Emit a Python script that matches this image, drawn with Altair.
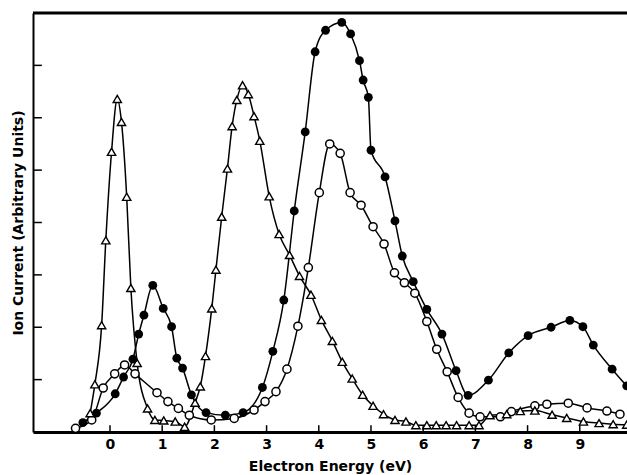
import altair as alt
import pandas as pd

# Filled circles
fill_x = [-0.52, -0.26, 0.10, 0.26, 0.44, 0.55, 0.65, 0.82, 1.02, 1.18, 1.28, 1.39, 1.56, 1.84,
          2.21, 2.55, 2.92, 3.12, 3.33, 3.53, 3.74, 3.93, 4.13, 4.44, 4.61, 4.78, 4.85, 4.95, 5.00,
          5.27, 5.46, 5.60, 5.81, 6.07, 6.36, 6.63, 6.86, 7.25, 7.64, 8.01, 8.45, 8.81, 9.06, 9.26,
          9.62, 9.90]
fill_y = [0.18, 0.36, 0.73, 1.05, 1.39, 1.87, 2.23, 2.80, 2.36, 2.01, 1.41, 1.22, 0.71, 0.37,
          0.32, 0.37, 0.85, 1.54, 2.52, 4.22, 5.73, 7.26, 7.67, 7.82, 7.60, 7.09, 6.72, 6.39, 5.38,
          4.87, 4.03, 3.36, 2.87, 2.34, 1.87, 1.17, 0.70, 0.99, 1.51, 1.84, 2.00, 2.13, 2.01, 1.66,
          1.20, 0.88]

# Open circles
open_x = [-0.66, -0.35, -0.13, 0.09, 0.28, 0.48, 0.90, 1.11, 1.31, 1.52, 1.94, 2.38, 2.76, 2.97,
          3.18, 3.39, 3.60, 3.80, 4.01, 4.21, 4.41, 4.60, 4.81, 5.04, 5.25, 5.45, 5.64, 5.84, 6.07,
          6.26, 6.46, 6.67, 6.88, 7.09, 7.48, 7.69, 8.14, 8.37, 8.78, 9.14, 9.52, 9.77]
open_y = [0.07, 0.23, 0.84, 1.11, 1.28, 1.11, 0.75, 0.58, 0.45, 0.32, 0.23, 0.26, 0.42, 0.58,
          0.77, 1.20, 2.02, 3.14, 4.57, 5.50, 5.32, 4.57, 4.33, 3.92, 3.59, 3.04, 2.85, 2.65, 2.11,
          1.58, 1.15, 0.66, 0.36, 0.29, 0.29, 0.39, 0.50, 0.53, 0.55, 0.46, 0.40, 0.34]

# Open triangles
tri_x = [-0.38, -0.29, -0.16, -0.08, 0.03, 0.14, 0.22, 0.32, 0.40, 0.52, 0.72, 0.86, 1.03, 1.25,
         1.43, 1.63, 1.73, 1.83, 1.95, 2.03, 2.14, 2.25, 2.34, 2.43, 2.54, 2.65, 2.76, 2.87, 3.05,
         3.24, 3.44, 3.63, 3.85, 4.05, 4.26, 4.45, 4.64, 4.84, 5.04, 5.24, 5.46, 5.67, 5.86, 6.07,
         6.25, 6.44, 6.64, 6.88, 7.07, 7.28, 7.60, 7.86, 8.14, 8.47, 8.75, 9.07, 9.37, 9.64, 9.90]
tri_y = [0.36, 0.91, 2.04, 3.66, 5.35, 6.36, 5.92, 4.49, 2.75, 1.32, 0.45, 0.23, 0.22, 0.20,
         0.10, 0.56, 0.87, 1.45, 2.36, 3.10, 4.11, 5.03, 5.84, 6.34, 6.62, 6.45, 6.03, 5.56, 4.50,
         3.78, 3.38, 2.98, 2.62, 2.14, 1.74, 1.34, 1.02, 0.71, 0.50, 0.34, 0.23, 0.20, 0.13, 0.13,
         0.13, 0.13, 0.13, 0.13, 0.13, 0.32, 0.34, 0.40, 0.41, 0.33, 0.27, 0.20, 0.17, 0.15, 0.14]

x_ticks = [0, 1, 2, 3, 4, 5, 6, 7, 8, 9]
y_ticks = [1, 2, 3, 4, 5, 6, 7]
x_min, x_max = -1.475, 9.905
y_min, y_max = 0, 8

df = pd.concat([
    pd.DataFrame({"x": fill_x, "y": fill_y, "s": "filled"}),
    pd.DataFrame({"x": open_x, "y": open_y, "s": "open"}),
    pd.DataFrame({"x": tri_x, "y": tri_y, "s": "tri"}),
])

FONT = "DejaVu Sans"

xs = alt.Scale(domain=[x_min, x_max], nice=False, zero=False)
ys = alt.Scale(domain=[y_min, y_max], nice=False, zero=False)

X = alt.X("x:Q", scale=xs, axis=alt.Axis(
    values=x_ticks, ticks=False, grid=False, domainWidth=3, domainColor="black",
    labelFont=FONT, labelFontSize=14, labelFontWeight="bold", labelColor="black",
    labelPadding=5, title="Electron Energy (eV)", titleFont=FONT, titleFontSize=14,
    titleFontWeight="bold", titleColor="black", titlePadding=8))
Y = alt.Y("y:Q", scale=ys, axis=alt.Axis(
    ticks=False, labels=False, grid=False, domainWidth=2, domainColor="black",
    title="Ion Current (Arbitrary Units)", titleFont=FONT, titleFontSize=14,
    titleFontWeight="bold", titleColor="black", titlePadding=8))

base = alt.Chart(df)
lines = base.mark_line(color="black", strokeWidth=1.5, interpolate="monotone").encode(
    x=X, y=Y, detail="s:N")
filled_pts = base.transform_filter(alt.datum.s == "filled").mark_point(
    shape="circle", filled=True, color="black", size=78, opacity=1).encode(x="x:Q", y="y:Q")
open_pts = base.transform_filter(alt.datum.s == "open").mark_point(
    shape="circle", fill="white", stroke="black", strokeWidth=1.5, size=66, opacity=1,
    fillOpacity=1).encode(x="x:Q", y="y:Q")
tri_pts = base.transform_filter(alt.datum.s == "tri").mark_point(
    shape="triangle-up", fill="white", stroke="black", strokeWidth=1.4, size=68, opacity=1,
    fillOpacity=1).encode(x="x:Q", y="y:Q")

xt = alt.Chart(pd.DataFrame({"t": x_ticks})).mark_rule(color="black", strokeWidth=1.5).encode(
    x="t:Q", y=alt.datum(0), y2=alt.datum(0.13))
yt = alt.Chart(pd.DataFrame({"t": y_ticks})).mark_rule(color="black", strokeWidth=1.5).encode(
    y="t:Q", x=alt.datum(x_min), x2=alt.datum(x_min + 0.17))
top = alt.Chart(pd.DataFrame({"a": [x_min], "b": [x_max], "t": [y_max]})).mark_rule(
    color="black", strokeWidth=3).encode(x="a:Q", x2="b:Q", y="t:Q")

chart = alt.layer(lines, xt, yt, top, open_pts, tri_pts, filled_pts).properties(
    width=594, height=419,
    autosize=alt.AutoSizeParams(type="none"),
    padding={"left": 33, "top": 13, "right": 0, "bottom": 43},
    background="white",
).configure_view(stroke=None)

chart.save("out.html", embed_options={"renderer": "svg", "actions": False})
